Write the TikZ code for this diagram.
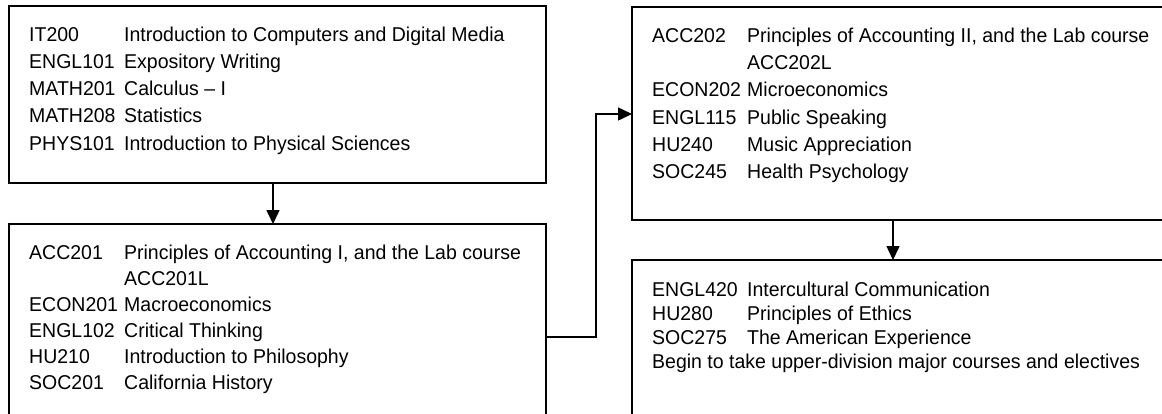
\documentclass[tikz,border=0pt]{standalone}
\usepackage{fontspec}
\setmainfont{Liberation Sans}[FakeStretch=0.975]
\usepackage{array}
\usetikzlibrary{arrows.meta}
\newcolumntype{C}{@{}p{95pt}@{}l@{}}
\begin{document}
\begin{tikzpicture}[x=1pt,y=-1pt,
  box/.style={draw,line width=1.5pt},
  txt/.style={anchor=north west,inner sep=0pt,font=\fontsize{20}{#1}\selectfont,align=left},
  txt/.default=27.3,
  conn/.style={line width=1.5pt,-{Triangle[length=14pt,width=13pt]}}]
\useasboundingbox (0,0) rectangle (1162,413);
\fill[white] (0,0) rectangle (1162,413);
% boxes
\draw[box] (9,430) |- (546,224) -- (546,430);
\draw[box] (9,6) rectangle (546,183);
\draw[box] (632,430) |- (1180,260);
\draw[box] (1180,7) -| (632,220) -- (1180,220);
\coordinate (b1s) at (273,183);
\coordinate (b2n) at (273,224);
\coordinate (b2e) at (546,337);
\coordinate (b3w) at (632,114);
\coordinate (b3s) at (893,220);
\coordinate (b4n) at (893,260);
\node[txt] (t1) at (29,21.7) {\begin{tabular}{C}
IT200 & Introduction to Computers and Digital Media\\
ENGL101 & Expository Writing\\
MATH201 & Calculus -- I\\
MATH208 & Statistics\\
PHYS101 & Introduction to Physical Sciences
\end{tabular}};
\node[txt=26] (t2) at (29,241) {\begin{tabular}{C}
ACC201 & Principles of Accounting I, and the Lab course\\
 & ACC201L\\
ECON201 & Macroeconomics\\
ENGL102 & Critical Thinking\\
HU210 & Introduction to Philosophy\\
SOC201 & California History
\end{tabular}};
\node[txt] (t3) at (652,23) {\begin{tabular}{C}
ACC202 & Principles of Accounting II, and the Lab course\\
 & ACC202L\\
ECON202 & Microeconomics\\
ENGL115 & Public Speaking\\
HU240 & Music Appreciation\\
SOC245 & Health Psychology
\end{tabular}};
\node[txt=24] (t4) at (652,279.4) {\begin{tabular}{C}
ENGL420 & Intercultural Communication\\
HU280 & Principles of Ethics\\
SOC275 & The American Experience\\
\multicolumn{2}{@{}l@{}}{Begin to take upper-division major courses and electives}
\end{tabular}};
\draw[conn] (b1s) -- (b2n);
\draw[conn] (b3s) -- (b4n);
\draw[conn] (b2e) -- (596,337) |- (b3w);
\end{tikzpicture}
\end{document}
